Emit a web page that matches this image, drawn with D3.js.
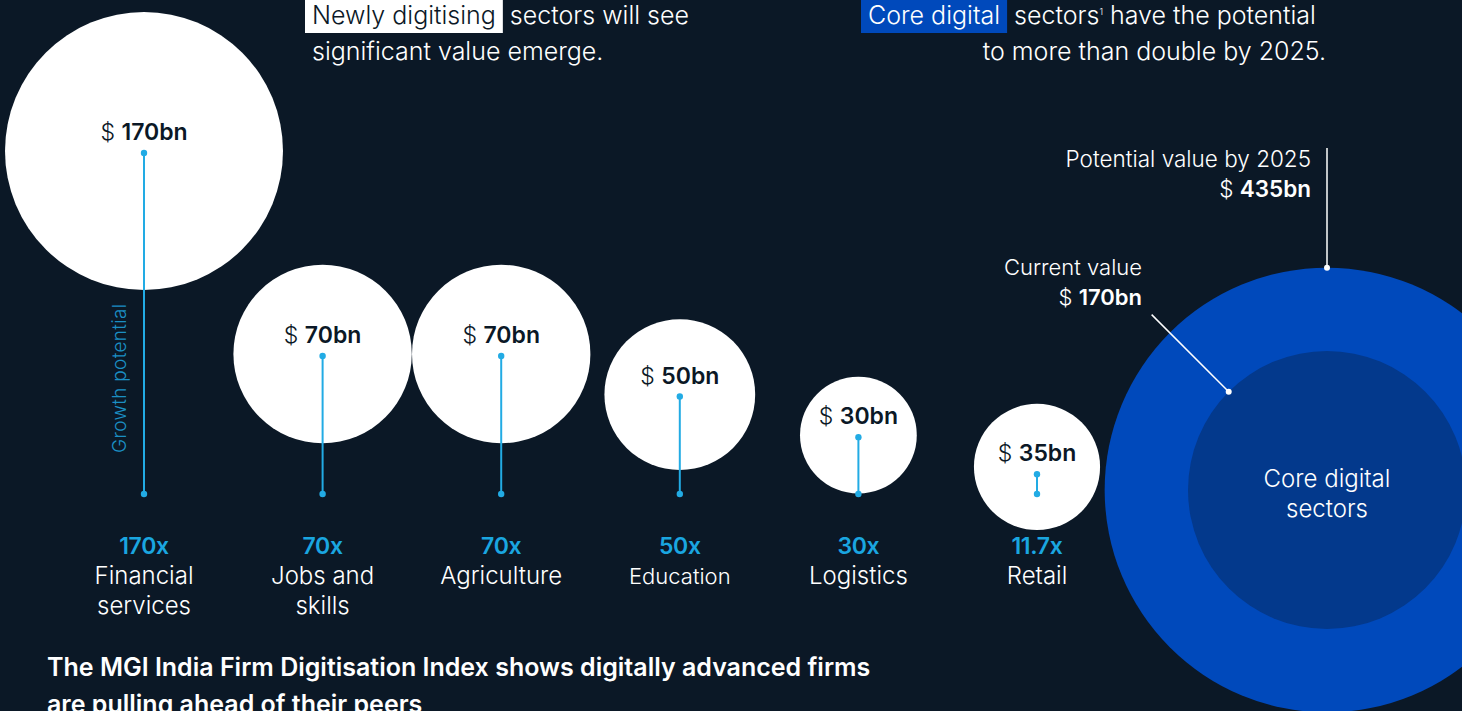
<!DOCTYPE html>
<html>
<head>
<meta charset="utf-8">
<script src="https://cdn.jsdelivr.net/npm/d3@7"></script>
<style>
  html, body { margin: 0; padding: 0; background: #0b1826; overflow: hidden; }
  svg { display: block; font-family: "Inter", "Roboto", "Liberation Sans", sans-serif; }
</style>
</head>
<body>
<div id="chart"></div>
<script>
// newly digitising sectors
var sectorNames = [["Financial", "services"], ["Jobs and", "skills"], ["Agriculture"], ["Education"], ["Logistics"], ["Retail"]];
var sectorKeys = ["Financial services", "Jobs and skills", "Agriculture", "Education", "Logistics", "Retail"];
var potentialValue = [170, 70, 70, 50, 30, 35];          // $bn
var growthMultiple = [170, 70, 70, 50, 30, 11.7];
var growthLabels = ["170x", "70x", "70x", "50x", "30x", "11.7x"];

// core digital sectors
var coreCurrent = 170;    // $bn
var corePotential = 435;  // $bn

var width = 1462, height = 711;
var bg = "#0b1826", lineBlue = "#22abe4", textBlue = "#1aa6e0";

var svg = d3.select("#chart").append("svg")
    .attr("width", width)
    .attr("height", height);

svg.append("rect").attr("width", width).attr("height", height).attr("fill", bg);

// scales
var x = d3.scalePoint().domain(sectorKeys).range([144, 1037]);
var y = d3.scaleLinear().domain([2, 170]).range([494, 153]);   // growth multiple
var r = d3.scaleSqrt().domain([0, 170]).range([0, 139]);       // value in $bn
var circleFloor = 530;

var data = sectorKeys.map(function(k, i) {
  return {key: k, lines: sectorNames[i], value: potentialValue[i],
          growth: growthMultiple[i], glabel: growthLabels[i]};
});

// bubbles
var g = svg.selectAll("g.sector").data(data).enter().append("g")
    .attr("class", "sector")
    .attr("transform", function(d) { return "translate(" + x(d.key) + ",0)"; });

g.append("circle")
    .attr("cx", 0)
    .attr("cy", function(d) { return Math.min(y(d.growth) - 2, circleFloor - r(d.value)); })
    .attr("r", function(d) { return r(d.value); })
    .attr("fill", "#ffffff");

// growth lines
g.append("line")
    .attr("x1", 0).attr("x2", 0)
    .attr("y1", function(d) { return y(d.growth); })
    .attr("y2", y(2))
    .attr("stroke", lineBlue)
    .attr("stroke-width", 2);

g.append("circle").attr("r", 3.2).attr("cy", function(d) { return y(d.growth); }).attr("fill", lineBlue);
g.append("circle").attr("r", 3.2).attr("cy", y(2)).attr("fill", lineBlue);

// value labels
var vl = g.append("text")
    .attr("y", function(d) { return y(d.growth) - 13; })
    .attr("text-anchor", "middle")
    .attr("fill", bg)
    .style("font-size", "23px");
vl.append("tspan").attr("font-weight", 300).text("$ ");
vl.append("tspan").attr("font-weight", 600).text(function(d) { return d.value + "bn"; });

// growth multiple + sector names
g.append("text")
    .attr("y", 554)
    .attr("text-anchor", "middle")
    .attr("fill", textBlue)
    .attr("font-weight", 600)
    .style("font-size", "23px")
    .style("letter-spacing", "-0.3px")
    .text(function(d) { return d.glabel; });

g.append("text")
    .attr("text-anchor", "middle")
    .attr("fill", "#ffffff")
    .attr("font-weight", 300)
    .style("font-size", function(d) { return d.key === "Education" ? "22px" : "24px"; })
    .selectAll("tspan").data(function(d) { return d.lines; }).enter().append("tspan")
    .attr("x", 0)
    .attr("y", function(d, i) { return 584 + i * 30; })
    .text(function(d) { return d; });

// growth potential axis label
svg.append("text")
    .attr("transform", "translate(126,453) rotate(-90)")
    .attr("fill", "#1b8fc4")
    .attr("font-weight", 300)
    .style("font-size", "19px")
    .style("letter-spacing", "0.3px")
    .text("Growth potential");

// core digital bubble
var cx = 1327, cy = 490;
svg.append("circle").attr("cx", cx).attr("cy", cy).attr("r", r(corePotential)).attr("fill", "#0049bb");
svg.append("circle").attr("cx", cx).attr("cy", cy).attr("r", r(coreCurrent)).attr("fill", "#03398c");

svg.append("text")
    .attr("text-anchor", "middle")
    .attr("fill", "#ffffff")
    .attr("font-weight", 300)
    .style("font-size", "24px")
    .selectAll("tspan").data(["Core digital", "sectors"]).enter().append("tspan")
    .attr("x", cx)
    .attr("y", function(d, i) { return 487 + i * 30; })
    .text(function(d) { return d; });

// potential annotation
var topY = cy - r(corePotential);
svg.append("line").attr("x1", cx).attr("x2", cx).attr("y1", 148).attr("y2", topY)
    .attr("stroke", "#ffffff").attr("stroke-width", 1.5);
svg.append("circle").attr("cx", cx).attr("cy", topY).attr("r", 3).attr("fill", "#ffffff");

var pa = svg.append("text").attr("text-anchor", "end").attr("fill", "#ffffff").style("font-size", "22.5px");
pa.append("tspan").attr("x", 1311).attr("y", 167).attr("font-weight", 300).text("Potential value by 2025");
var pa2 = pa.append("tspan").attr("x", 1311).attr("y", 197);
pa2.append("tspan").attr("font-weight", 300).text("$ ");
pa2.append("tspan").attr("font-weight", 600).text(corePotential + "bn");

// current annotation (radial leader at 45 degrees up-left)
var p1 = [cx - r(coreCurrent) * Math.SQRT1_2, cy - r(coreCurrent) * Math.SQRT1_2];
var p0 = [cx - 248 * Math.SQRT1_2, cy - 248 * Math.SQRT1_2];
svg.append("line").attr("x1", p0[0]).attr("y1", p0[1]).attr("x2", p1[0]).attr("y2", p1[1])
    .attr("stroke", "#ffffff").attr("stroke-width", 1.5);
svg.append("circle").attr("cx", p1[0]).attr("cy", p1[1]).attr("r", 3).attr("fill", "#ffffff");

var ca = svg.append("text").attr("text-anchor", "end").attr("fill", "#ffffff").style("font-size", "22px");
ca.append("tspan").attr("x", 1142).attr("y", 275).attr("font-weight", 300).text("Current value");
var ca2 = ca.append("tspan").attr("x", 1142).attr("y", 305);
ca2.append("tspan").attr("font-weight", 300).text("$ ");
ca2.append("tspan").attr("font-weight", 600).text(coreCurrent + "bn");

// headline texts with highlighted keyword boxes
function highlight(xStart, word, boxFill, wordFill) {
  var box = svg.append("rect").attr("y", 0).attr("height", 33).attr("fill", boxFill);
  var t = svg.append("text").attr("fill", "#ffffff").attr("font-weight", 300).style("font-size", "25px");
  var w = t.append("tspan").attr("x", xStart).attr("y", 24).attr("fill", wordFill).text(word);
  var len = w.node().getComputedTextLength();
  box.attr("x", xStart - 7).attr("width", len + 14);
  return t.append("tspan").attr("x", xStart + len + 14);
}

highlight(312, "Newly digitising", "#ffffff", bg).text("sectors will see");
svg.append("text").attr("fill", "#ffffff").attr("font-weight", 300).style("font-size", "25px")
    .attr("x", 312).attr("y", 60).text("significant value emerge.");

var r2 = highlight(868, "Core digital", "#0049bb", "#ffffff");
r2.text("sectors");
r2.append("tspan").attr("dy", -9).style("font-size", "9px").text("1");
r2.append("tspan").attr("dy", 9).text(" have the potential");
svg.append("text").attr("fill", "#ffffff").attr("font-weight", 300).style("font-size", "25px")
    .attr("x", 1326).attr("y", 60).attr("text-anchor", "end").text("to more than double by 2025.");

// footer headline
svg.append("text")
    .attr("fill", "#ffffff")
    .attr("font-weight", 600)
    .style("font-size", "25px")
    .selectAll("tspan")
    .data(["The MGI India Firm Digitisation Index shows digitally advanced firms", "are pulling ahead of their peers"])
    .enter().append("tspan")
    .attr("x", 47)
    .attr("y", function(d, i) { return 676 + i * 37; })
    .text(function(d) { return d; });
</script>
</body>
</html>
